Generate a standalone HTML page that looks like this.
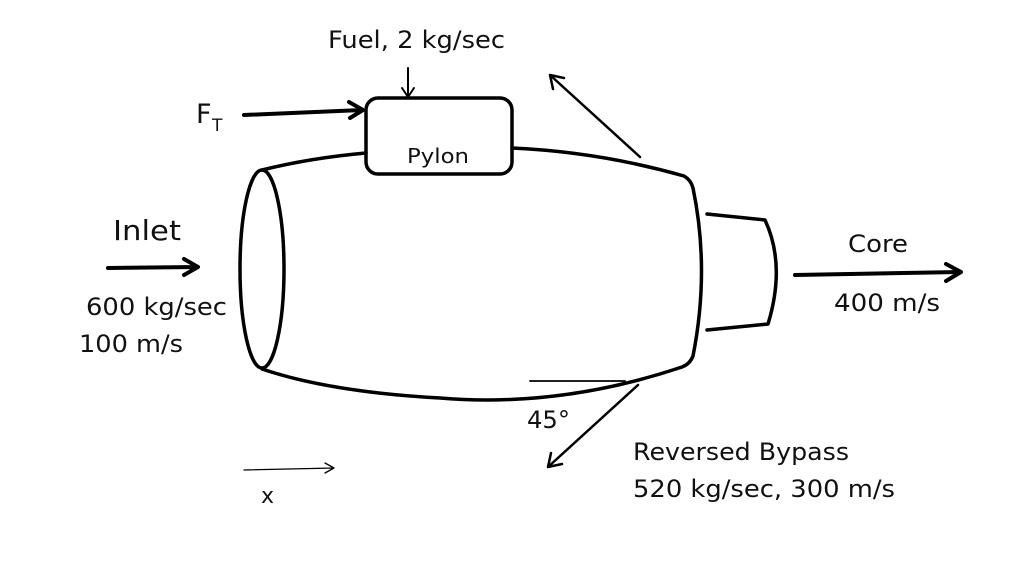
<!DOCTYPE html>
<html><head><meta charset="utf-8"><style>html,body{margin:0;padding:0;background:#fff}svg{display:block}text{font-family:"DejaVu Sans","Liberation Sans",sans-serif;fill:#111}</style></head>
<body>
<svg width="1024" height="562" viewBox="0 0 1024 562" xmlns="http://www.w3.org/2000/svg">
<g fill="none" stroke="#000" stroke-linecap="round" stroke-linejoin="round">
<path d="M262,170 Q310,158 366,153" stroke-width="3.5"/>
<path d="M512,148 Q600,152 684,176 Q691,180 693,188 Q710,270 693,356 Q690,364 682,367 Q560,408 440,398 Q330,392 262,369" stroke-width="3.5"/>
<ellipse cx="262" cy="269" rx="22" ry="99" stroke-width="3.5"/>
<rect x="366" y="98" width="146" height="76" rx="12" stroke-width="3.5"/>
<path d="M707,214 L765,220 Q786,265 768,324 L707,330" stroke-width="3.5"/>
<path d="M795,275 L960,272 M946,264 L961,272 L946,281" stroke-width="4"/>
<path d="M108,268 L197,267 M184,259 L198,267 L184,275" stroke-width="4"/>
<path d="M244,115 L362,110 M349,102 L363,110 L350,118" stroke-width="4"/>
<path d="M408,68 L408,97 M402,88 L408,97 L414,88" stroke-width="2"/>
<path d="M640,157 L550,75 M550,75 L553,89 M550,75 L564,78" stroke-width="2.5"/>
<path d="M638,385 L548,467 M548,467 L562,464 M548,467 L551,453" stroke-width="2.5"/>
<path d="M530,381 L625,381" stroke-width="1.8"/>
<path d="M244,470 L334,468 M325,463 L334,468 L325,473" stroke-width="1.3"/>
</g>
<text x="328" y="48" font-size="24" textLength="177" lengthAdjust="spacingAndGlyphs">Fuel, 2 kg/sec</text>
<text x="196" y="123" font-size="27">F</text>
<text x="212" y="131" font-size="17">T</text>
<text x="113" y="240" font-size="28" textLength="68" lengthAdjust="spacingAndGlyphs">Inlet</text>
<text x="86" y="315" font-size="24" textLength="141" lengthAdjust="spacingAndGlyphs">600 kg/sec</text>
<text x="79" y="352" font-size="24" textLength="104" lengthAdjust="spacingAndGlyphs">100 m/s</text>
<text x="407" y="163" font-size="20" textLength="62" lengthAdjust="spacingAndGlyphs">Pylon</text>
<text x="848" y="252" font-size="24" textLength="60" lengthAdjust="spacingAndGlyphs">Core</text>
<text x="834" y="311" font-size="24" textLength="106" lengthAdjust="spacingAndGlyphs">400 m/s</text>
<text x="527" y="428" font-size="24" textLength="43" lengthAdjust="spacingAndGlyphs">45°</text>
<text x="633" y="460" font-size="24" textLength="216" lengthAdjust="spacingAndGlyphs">Reversed Bypass</text>
<text x="633" y="497" font-size="24" textLength="262" lengthAdjust="spacingAndGlyphs">520 kg/sec, 300 m/s</text>
<text x="261" y="503" font-size="22">x</text>
</svg>
</body></html>
